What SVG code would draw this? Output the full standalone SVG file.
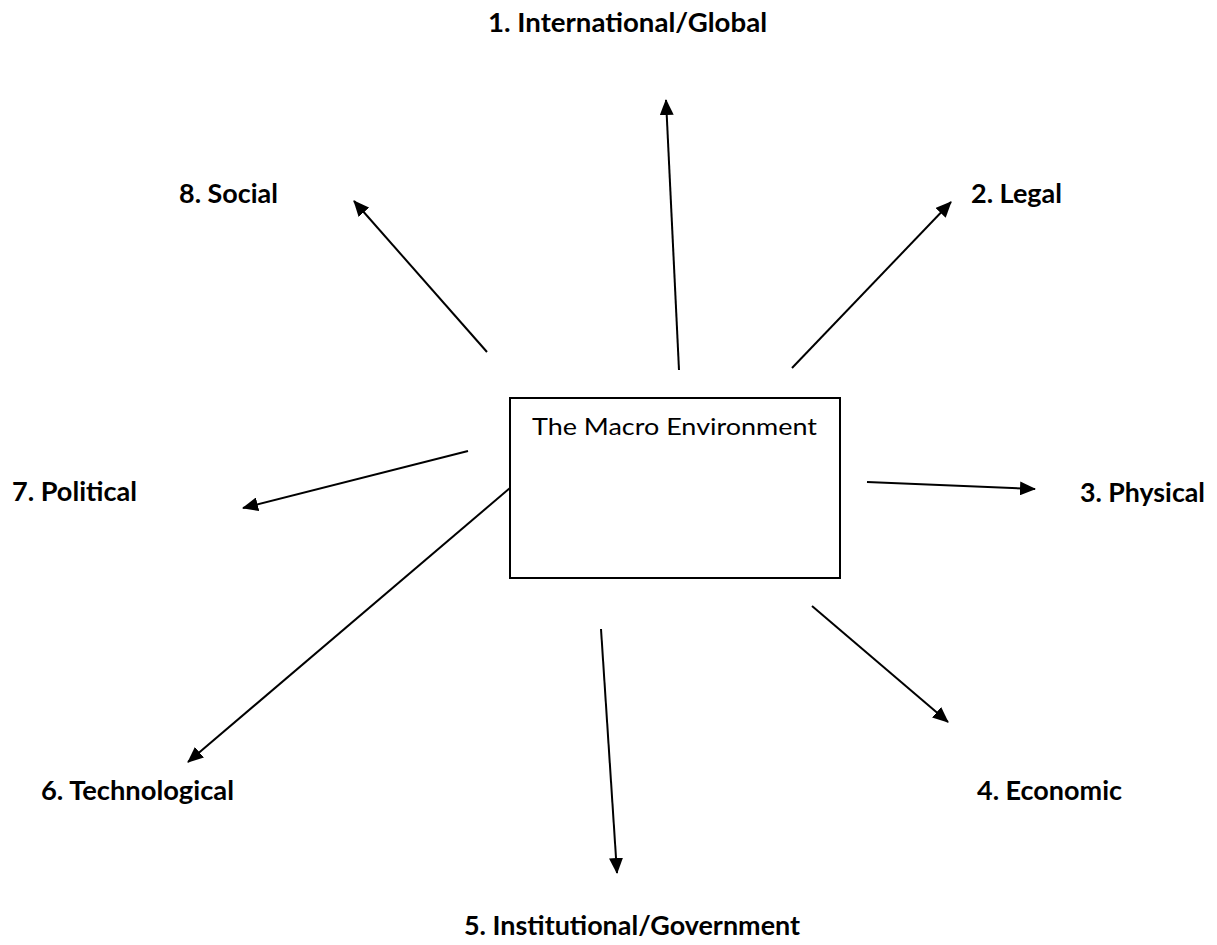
<svg xmlns="http://www.w3.org/2000/svg" width="1217" height="945" viewBox="0 0 1217 945">
<defs>
<marker id="ah" viewBox="0 0 16 14" refX="15" refY="7" markerWidth="8" markerHeight="7" markerUnits="strokeWidth" orient="auto">
<path d="M0,0 L16,7 L0,14 z" fill="#000"/>
</marker>
<style>
.lbl{font-family:Lato,"Open Sans","Liberation Sans",sans-serif;font-weight:bold;font-size:26px;fill:#000}
.box{fill:#fff;stroke:#000;stroke-width:2}
.ctext{font-family:Lato,"Open Sans","Liberation Sans",sans-serif;font-size:24px;fill:#000}
.c{stroke:#000;stroke-width:2;fill:none;marker-end:url(#ah)}
</style>
</defs>
<rect width="1217" height="945" fill="#fff"/>
<g id="center">
<rect class="box" x="510" y="398" width="330" height="180"/>
<text class="ctext" x="532" y="435" textLength="285" lengthAdjust="spacingAndGlyphs">The Macro Environment</text>
</g>
<g id="n1"><text class="lbl" x="488" y="32" textLength="279" lengthAdjust="spacingAndGlyphs">1. International/Global</text></g>
<g id="n2"><text class="lbl" x="971" y="203" textLength="91" lengthAdjust="spacingAndGlyphs">2. Legal</text></g>
<g id="n3"><text class="lbl" x="1080" y="502" textLength="125" lengthAdjust="spacingAndGlyphs">3. Physical</text></g>
<g id="n4"><text class="lbl" x="977" y="800" textLength="145" lengthAdjust="spacingAndGlyphs">4. Economic</text></g>
<g id="n5"><text class="lbl" x="464" y="935" textLength="336" lengthAdjust="spacingAndGlyphs">5. Institutional/Government</text></g>
<g id="n6"><text class="lbl" x="41" y="800" textLength="193" lengthAdjust="spacingAndGlyphs">6. Technological</text></g>
<g id="n7"><text class="lbl" x="12" y="501" textLength="125" lengthAdjust="spacingAndGlyphs">7. Political</text></g>
<g id="n8"><text class="lbl" x="179" y="203" textLength="99" lengthAdjust="spacingAndGlyphs">8. Social</text></g>
<g id="connectors">
<line class="c" x1="679" y1="370" x2="666" y2="100"/>
<line class="c" x1="792" y1="368" x2="951" y2="202"/>
<line class="c" x1="867" y1="482" x2="1035" y2="489"/>
<line class="c" x1="812" y1="606" x2="948" y2="722"/>
<line class="c" x1="601" y1="629" x2="617" y2="873"/>
<line class="c" x1="510" y1="488" x2="188" y2="762"/>
<line class="c" x1="468" y1="451" x2="243" y2="508"/>
<line class="c" x1="487" y1="352" x2="354" y2="201"/>
</g>
</svg>
